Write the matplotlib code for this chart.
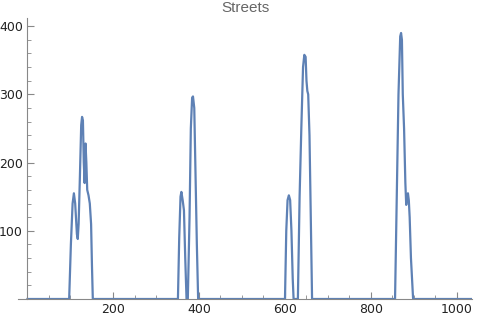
import matplotlib.pyplot as plt
from matplotlib.ticker import MultipleLocator

# values (x position, street count)
street_x = [1, 98, 102, 106, 109, 112, 116, 118, 120, 123, 126, 128, 130, 132, 134, 136, 138, 140, 143, 146, 149, 151, 153,
            351, 354, 357, 359, 362, 365, 368, 371, 374, 378, 381, 384, 386, 389, 392, 395, 398,
            600, 603, 606, 609, 612, 615, 618, 620, 630, 634, 638, 642, 645, 648, 650, 652, 654, 657, 660, 663,
            856, 860, 864, 868, 870, 872, 874, 877, 880, 882, 884, 886, 888, 890, 893, 898,
            1035]
street_y = [0, 0, 80, 140, 155, 140, 95, 88, 110, 180, 255, 267, 262, 200, 170, 228, 200, 160, 152, 140, 110, 50, 0,
            0, 90, 150, 157, 145, 130, 60, 0, 0, 120, 250, 295, 297, 280, 180, 80, 0,
            0, 100, 145, 152, 145, 100, 30, 0, 0, 150, 250, 340, 358, 355, 320, 305, 300, 240, 120, 0,
            0, 150, 300, 385, 390, 380, 300, 250, 170, 138, 150, 155, 145, 120, 60, 0,
            0]
title = "Streets"

fig = plt.figure(figsize=(4.8, 3.19), dpi=100)
ax = fig.add_axes([18 / 480, 20 / 319, 454 / 480, 281 / 319])

ax.plot(street_x, street_y, color="#5E81B5", linewidth=1.6)

ax.set_xlim(-21, 1035)
ax.set_ylim(0, 412)

ax.spines["top"].set_visible(False)
ax.spines["right"].set_visible(False)
ax.spines["left"].set_position(("data", 0))
ax.spines["bottom"].set_position(("data", 0))
for s in ["left", "bottom"]:
    ax.spines[s].set_color("#888888")
    ax.spines[s].set_linewidth(0.8)

ax.xaxis.set_major_locator(MultipleLocator(200))
ax.xaxis.set_minor_locator(MultipleLocator(50))
ax.yaxis.set_major_locator(MultipleLocator(100))
ax.yaxis.set_minor_locator(MultipleLocator(20))
ax.set_xticks([200, 400, 600, 800, 1000])
ax.set_yticks([100, 200, 300, 400])
ax.tick_params(which="major", direction="in", length=5, width=0.8, color="#888888",
               labelsize=9, labelcolor="#222222", pad=3)
ax.tick_params(which="minor", direction="in", length=3, width=0.6, color="#888888")

ax.set_title(title, fontsize=11, color="#666666", pad=4, family="Liberation Sans")

fig.savefig("out.png", dpi=100)
